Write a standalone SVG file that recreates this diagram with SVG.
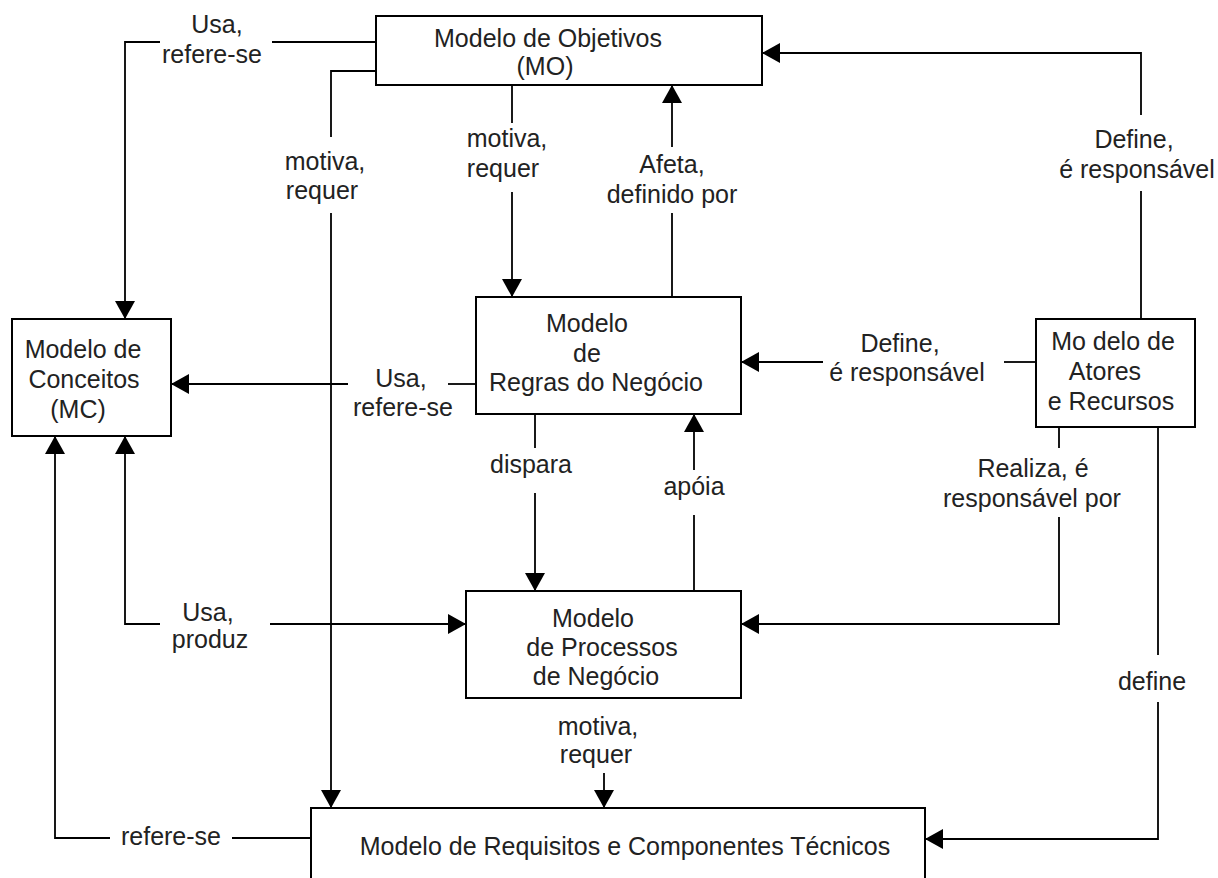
<svg xmlns="http://www.w3.org/2000/svg" width="1218" height="878" viewBox="0 0 1218 878">
<style>
.box{fill:#fff;stroke:#000;stroke-width:2}
.c{fill:none;stroke:#000;stroke-width:1.8}
text{font-family:"Liberation Sans",Arial,sans-serif;font-size:25px;fill:#222;text-anchor:middle}
</style>
<defs>
<marker id="ah" markerUnits="userSpaceOnUse" markerWidth="20" markerHeight="20" refX="18" refY="10" orient="auto">
<path d="M0,0 L18,10 L0,20 z" fill="#000"/>
</marker>
</defs>
<rect width="1218" height="878" fill="#fff"/>
<g id="connectors">
<polyline class="c" points="376,42 272,42"/>
<polyline class="c" points="160,42 125,42 125,319" marker-end="url(#ah)"/>
<polyline class="c" points="376,71 331,71 331,137"/>
<polyline class="c" points="331,213 331,808" marker-end="url(#ah)"/>
<polyline class="c" points="512,85 512,123"/>
<polyline class="c" points="512,192 512,297" marker-end="url(#ah)"/>
<polyline class="c" points="672,297 672,213"/>
<polyline class="c" points="672,147 672,85" marker-end="url(#ah)"/>
<polyline class="c" points="1141,319 1141,191"/>
<polyline class="c" points="1141,115 1141,53 762,53" marker-end="url(#ah)"/>
<polyline class="c" points="1036,362 1004,362"/>
<polyline class="c" points="823,362 741,362" marker-end="url(#ah)"/>
<polyline class="c" points="476,384 448,384"/>
<polyline class="c" points="348,384 171,384" marker-end="url(#ah)"/>
<polyline class="c" points="535,414 535,448"/>
<polyline class="c" points="535,493 535,591" marker-end="url(#ah)"/>
<polyline class="c" points="694,591 694,515"/>
<polyline class="c" points="694,470 694,414" marker-end="url(#ah)"/>
<polyline class="c" points="1059,427 1059,448"/>
<polyline class="c" points="1059,517 1059,624 741,624" marker-end="url(#ah)"/>
<polyline class="c" points="1158,427 1158,655"/>
<polyline class="c" points="1158,702 1158,839 925,839" marker-end="url(#ah)"/>
<polyline class="c" points="604,773 604,808" marker-end="url(#ah)"/>
<polyline class="c" points="311,838 232,838"/>
<polyline class="c" points="110,838 55,838 55,436" marker-end="url(#ah)"/>
<polyline class="c" points="160,624 125,624 125,436" marker-end="url(#ah)"/>
<polyline class="c" points="270,624 466,624" marker-end="url(#ah)"/>
</g>
<g id="labels">
<text x="217" y="33">Usa,</text>
<text x="212" y="63">refere-se</text>
<text x="325" y="170">motiva,</text>
<text x="322" y="199">requer</text>
<text x="507" y="147">motiva,</text>
<text x="503" y="177">requer</text>
<text x="672" y="173">Afeta,</text>
<text x="672" y="203">definido por</text>
<text x="1134" y="148">Define,</text>
<text x="1137" y="178">é responsável</text>
<text x="900" y="352">Define,</text>
<text x="907" y="381">é responsável</text>
<text x="401" y="387">Usa,</text>
<text x="403" y="416">refere-se</text>
<text x="531" y="473">dispara</text>
<text x="694" y="495">apóia</text>
<text x="1033" y="477">Realiza, é</text>
<text x="1032" y="507">responsável por</text>
<text x="1152" y="690">define</text>
<text x="208" y="621">Usa,</text>
<text x="210" y="648">produz</text>
<text x="171" y="845">refere-se</text>
<text x="598" y="735">motiva,</text>
<text x="596" y="763">requer</text>
</g>
<g id="MO">
<rect class="box" x="376" y="16" width="386" height="69"/>
<text x="548" y="47">Modelo de Objetivos</text>
<text x="545" y="75">(MO)</text>
</g>
<g id="MC">
<rect class="box" x="12" y="319" width="159" height="117"/>
<text x="83" y="358">Modelo de</text>
<text x="84" y="388">Conceitos</text>
<text x="78" y="418">(MC)</text>
</g>
<g id="MRN">
<rect class="box" x="476" y="297" width="265" height="117"/>
<text x="587" y="332">Modelo</text>
<text x="587" y="362">de</text>
<text x="596" y="391">Regras do Negócio</text>
</g>
<g id="MAR">
<rect class="box" x="1036" y="319" width="159" height="108"/>
<text x="1113" y="350">Mo delo de</text>
<text x="1105" y="380">Atores</text>
<text x="1111" y="410">e Recursos</text>
</g>
<g id="MPN">
<rect class="box" x="466" y="591" width="275" height="107"/>
<text x="593" y="627">Modelo</text>
<text x="602" y="656">de Processos</text>
<text x="596" y="685">de Negócio</text>
</g>
<g id="MRCT">
<rect class="box" x="311" y="808" width="614" height="120"/>
<text x="625" y="855">Modelo de Requisitos e Componentes Técnicos</text>
</g>
</svg>
